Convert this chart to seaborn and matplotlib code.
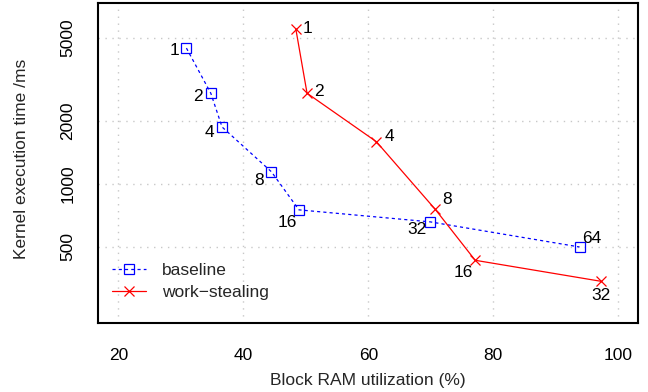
import matplotlib
matplotlib.use("Agg")
import matplotlib.pyplot as plt
import seaborn as sns
import pandas as pd
from matplotlib.lines import Line2D

# Data
base_x = [30.9, 34.8, 36.6, 44.5, 48.9, 69.9, 93.8]
base_y = [4450, 2710, 1870, 1143, 752, 659, 500]
base_lbl = ["1", "2", "4", "8", "16", "32", "64"]

ws_x = [48.4, 50.2, 61.3, 70.7, 77.1, 97.2]
ws_y = [5500, 2710, 1590, 757, 432, 343]
ws_lbl = ["1", "2", "4", "8", "16", "32"]

x_ticks = [20, 40, 60, 80, 100]
y_ticks = [500, 1000, 2000, 5000]

sns.set_style("white")
plt.rcParams['font.family'] = ['Liberation Sans', 'DejaVu Sans']
FS = 12.5

fig = plt.figure(figsize=(6.48, 3.92), dpi=100)
ax = fig.add_axes([98.3/648, 1-322.5/392, (638.3-98.3)/648, (322.5-2.7)/392])

df_b = pd.DataFrame({"x": base_x, "y": base_y})
df_w = pd.DataFrame({"x": ws_x, "y": ws_y})

sns.lineplot(data=df_b, x="x", y="y", ax=ax, sort=False, estimator=None,
             color="#0000FF", lw=0.9, marker="s", markersize=6.5,
             markerfacecolor="none", markeredgecolor="#0000FF", mew=0.9,
             dashes=False)
ax.lines[-1].set_dashes([2.5, 2.5])
sns.lineplot(data=df_w, x="x", y="y", ax=ax, sort=False, estimator=None,
             color="#FF0000", lw=0.9, marker="x", markersize=7,
             markeredgecolor="#FF0000", mew=0.9)

ax.set_yscale("log")
ax.set_xlim(16.8, 103.2)
ax.set_ylim(218, 7330)

# grid
for gx in x_ticks:
    ax.axvline(gx, color="#c8c8c8", lw=1, ls=(0, (1, 4)), zorder=0)
for gy in y_ticks:
    ax.axhline(gy, color="#c8c8c8", lw=1, ls=(0, (1, 4)), zorder=0)

ax.set_xticks(x_ticks)
ax.set_xticklabels([str(v) for v in x_ticks])
ax.set_yticks(y_ticks)
ax.set_yticklabels([str(v) for v in y_ticks], rotation=90, va="center")
ax.minorticks_off()
ax.tick_params(axis="both", direction="out", length=8.5, width=1.2,
               labelsize=FS, color="black", labelcolor="black")
ax.tick_params(axis="x", pad=10)
ax.tick_params(axis="y", pad=8)
for s in ax.spines.values():
    s.set_color("black")
    s.set_linewidth(1.5)

ax.set_xlabel("Block RAM utilization (%)", fontsize=FS, va="center")
ax.set_ylabel("Kernel execution time /ms", fontsize=FS, va="center")
ax.xaxis.set_label_coords(0.5, (322.5-380)/319.8)
ax.yaxis.set_label_coords((21.7-98.3)/540, 0.512)

# point labels (offsets in pixels)
b_off = [(-12, -2), (-13, -3), (-13, -6), (-12, -9), (-12, -13), (-13, -8), (12, 8)]
w_off = [(12, 0), (12, 2), (13, 5), (12, 10), (-12, -12), (0, -14)]
for x, y, t, (dx, dy) in zip(base_x, base_y, base_lbl, b_off):
    ax.annotate(t, (x, y), xytext=(dx*0.72, dy*0.72), textcoords="offset points",
                ha="center", va="center", fontsize=FS, color="black")
for x, y, t, (dx, dy) in zip(ws_x, ws_y, ws_lbl, w_off):
    ax.annotate(t, (x, y), xytext=(dx*0.72, dy*0.72), textcoords="offset points",
                ha="center", va="center", fontsize=FS, color="black")

handles = [
    Line2D([], [], color="#0000FF", lw=0.9, dashes=[2.5, 2.5], marker="s",
           markersize=6.5, markerfacecolor="none", markeredgecolor="#0000FF", mew=0.9),
    Line2D([], [], color="#FF0000", lw=0.9, marker="x", markersize=7,
           markeredgecolor="#FF0000", mew=0.9),
]
ax.legend(handles, ["baseline", "work\u2212stealing"], loc="lower left",
          bbox_to_anchor=(-0.004, 0.02), frameon=False, fontsize=FS,
          handlelength=2.0, handletextpad=0.9, labelspacing=0.41)

fig.savefig("out.png", dpi=100)
